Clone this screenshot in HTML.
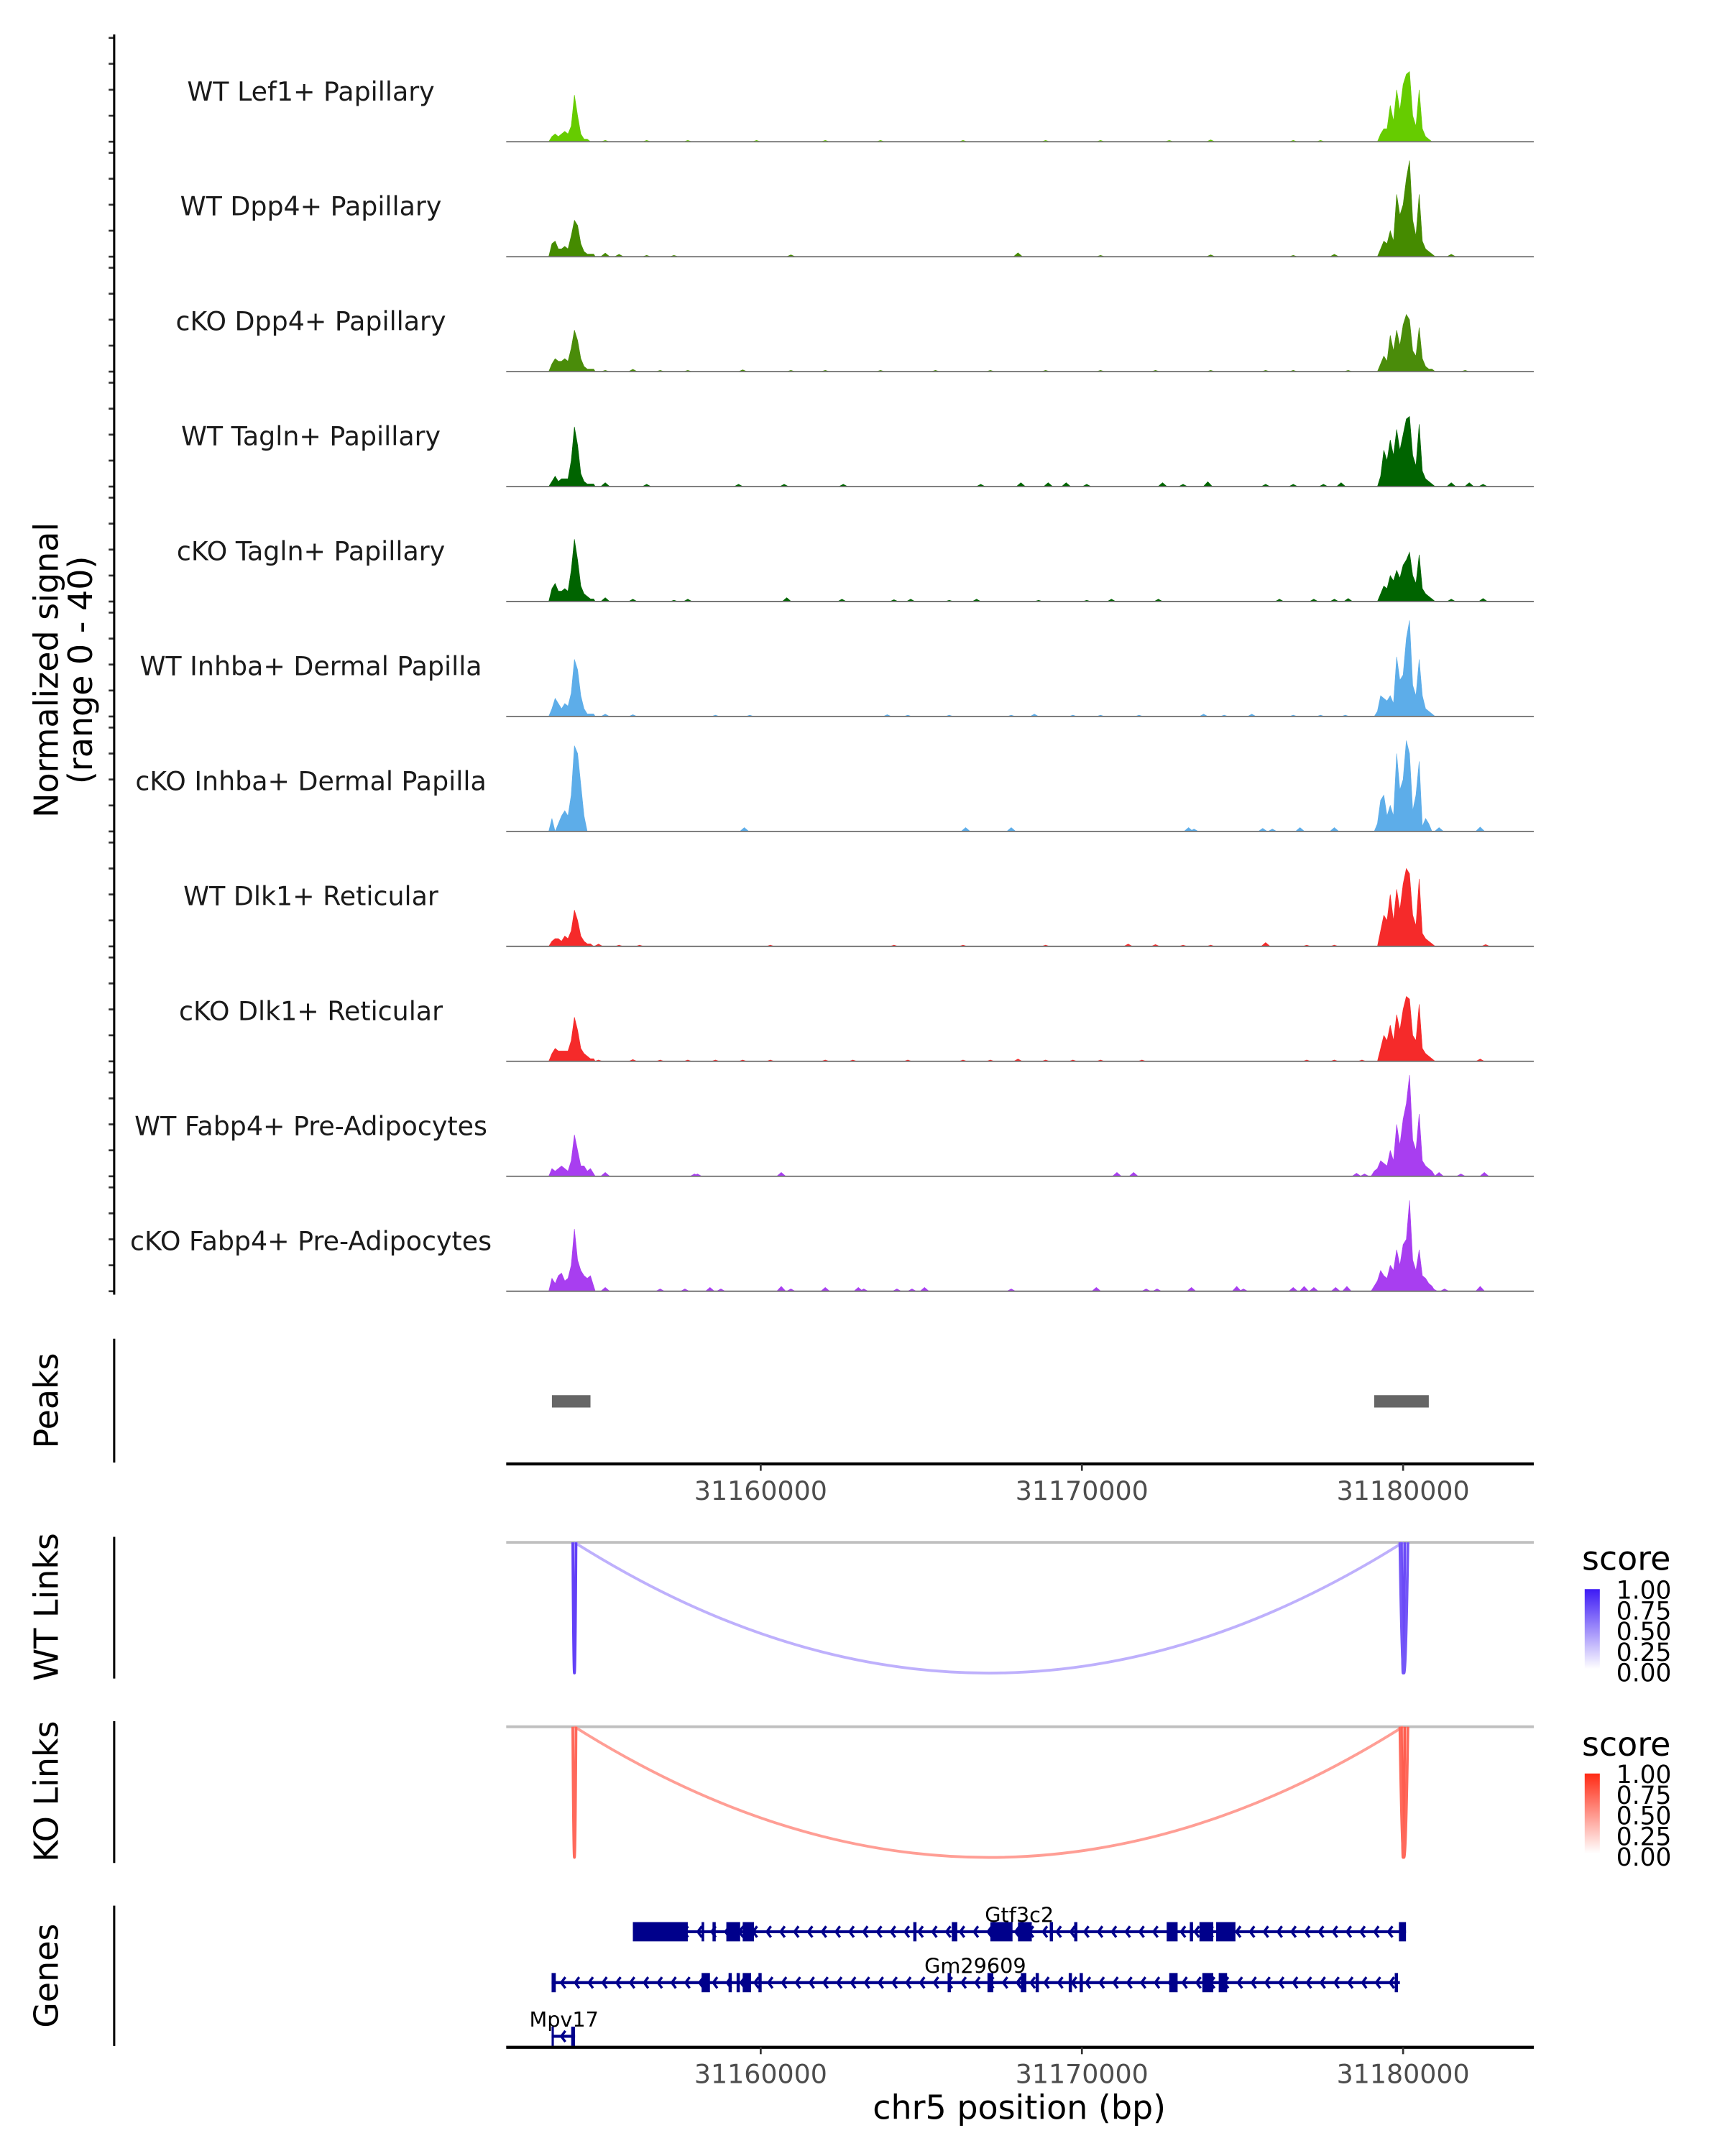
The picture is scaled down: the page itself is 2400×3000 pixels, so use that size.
<!DOCTYPE html>
<html><head><meta charset="utf-8">
<style>
html,body{margin:0;padding:0;background:#fff;}
svg{display:block;font-family:"DejaVu Sans","Liberation Sans",sans-serif;}
</style></head>
<body>
<svg id="chart" width="2400" height="3000" viewBox="0 0 1254 1567" preserveAspectRatio="none" xmlns="http://www.w3.org/2000/svg">
<rect width="1254" height="1567" fill="#fff"/>
<g id="tracks"></g>
<line x1="83" y1="25" x2="83" y2="941" stroke="#000" stroke-width="1.6"/>
<text transform="translate(42,487) rotate(-90)" text-anchor="middle" font-size="24" fill="#000">Normalized signal</text>
<text transform="translate(67,487) rotate(-90)" text-anchor="middle" font-size="24" fill="#000">(range 0 - 40)</text>

<g id="peaks">
<line x1="83" y1="973" x2="83" y2="1063" stroke="#000" stroke-width="1.6"/>
<text transform="translate(42,1018) rotate(-90)" text-anchor="middle" font-size="24">Peaks</text>
</g>
<g id="axis1"></g>

<g id="wtlinks">
<line x1="83" y1="1117" x2="83" y2="1220" stroke="#000" stroke-width="1.6"/>
<text transform="translate(42,1168) rotate(-90)" text-anchor="middle" font-size="24">WT Links</text>
</g>
<g id="kolinks">
<line x1="83" y1="1251" x2="83" y2="1354" stroke="#000" stroke-width="1.6"/>
<text transform="translate(42,1302) rotate(-90)" text-anchor="middle" font-size="24">KO Links</text>
</g>
<g id="genes">
<line x1="83" y1="1385" x2="83" y2="1487" stroke="#000" stroke-width="1.6"/>
<text transform="translate(42,1436) rotate(-90)" text-anchor="middle" font-size="24">Genes</text>
</g>
<g id="axis2"></g>
<text x="741" y="1540" text-anchor="middle" font-size="24">chr5 position (bp)</text>

<defs>
<linearGradient id="gWT" x1="0" y1="1" x2="0" y2="0"><stop offset="0" stop-color="#ffffff"/><stop offset="1" stop-color="#3d1af5"/></linearGradient>
<linearGradient id="gKO" x1="0" y1="1" x2="0" y2="0"><stop offset="0" stop-color="#ffffff"/><stop offset="1" stop-color="#ff2a14"/></linearGradient>
</defs>
<g>
<text x="1150" y="1141" font-size="24">score</text>
<rect x="1152" y="1155" width="11" height="58" fill="url(#gWT)"/>
<text x="1175" y="1162" font-size="18">1.00</text><text x="1175" y="1177" font-size="18">0.75</text><text x="1175" y="1192" font-size="18">0.50</text><text x="1175" y="1207" font-size="18">0.25</text><text x="1175" y="1222" font-size="18">0.00</text>
</g>
<g>
<text x="1150" y="1276" font-size="24">score</text>
<rect x="1152" y="1289" width="11" height="58" fill="url(#gKO)"/>
<text x="1175" y="1296" font-size="18">1.00</text><text x="1175" y="1311" font-size="18">0.75</text><text x="1175" y="1326" font-size="18">0.50</text><text x="1175" y="1341" font-size="18">0.25</text><text x="1175" y="1356" font-size="18">0.00</text>
</g>
</svg>
<script>
// ---- data ----
const trackNames = ["WT Lef1+ Papillary","WT Dpp4+ Papillary","cKO Dpp4+ Papillary","WT Tagln+ Papillary","cKO Tagln+ Papillary","WT Inhba+ Dermal Papilla","cKO Inhba+ Dermal Papilla","WT Dlk1+ Reticular","cKO Dlk1+ Reticular","WT Fabp4+ Pre-Adipocytes","cKO Fabp4+ Pre-Adipocytes"];
const trackColors = ["#66cc00","#458b00","#4a8c0a","#006400","#006400","#5dade9","#5dade9","#f52a2a","#f52a2a","#a83ef0","#a83ef0"];
const leftStart = 31153400, rightStart = 31178900, binSize = 100;
const leftVals = [
[0,2,3,2,3,4,3,6,18,10,3,1,1,0,0],
[0,5,6,3,3,4,3,8,14,12,5,2,1,1,1],
[0,3,5,4,4,5,4,9,16,12,5,2,1,1,1],
[0,2,4,2,3,3,3,10,23,16,5,2,1,1,1],
[0,5,7,4,4,5,4,12,24,16,6,3,2,1,1],
[0,3,7,5,3,5,4,9,22,18,8,3,1,1,1],
[0,5,0,3,6,8,6,14,33,30,18,6,0,0,0],
[0,2,3,3,2,4,3,6,14,10,4,2,1,1,0],
[0,3,5,4,4,4,4,8,17,12,5,3,2,1,1],
[0,3,2,3,4,3,2,6,16,10,4,4,2,3,1],
[0,5,3,6,7,4,5,10,24,12,8,6,5,6,2]];
const rightVals = [
[0,0,0,0,3,5,5,14,8,20,12,22,26,27,10,6,20,5,2,1,0,0],
[0,0,0,0,3,6,5,10,6,24,16,20,30,37,14,8,24,6,3,2,1,0],
[0,0,0,0,3,6,4,14,8,16,10,18,22,20,8,6,17,5,2,1,1,0],
[0,0,0,0,4,14,10,18,12,22,14,20,26,27,12,8,24,6,3,2,1,0],
[0,0,0,0,3,6,5,10,8,12,9,14,16,19,10,7,18,5,3,2,1,0],
[0,0,0,2,8,7,6,8,5,23,14,16,30,37,12,8,22,8,3,2,1,0],
[0,0,0,3,12,14,6,10,6,30,16,20,35,30,8,14,27,2,5,3,0,0],
[0,0,0,0,6,12,10,20,10,22,14,24,30,28,12,8,26,5,3,2,1,0],
[0,0,0,0,5,10,8,14,8,18,12,20,25,24,10,8,22,5,3,2,1,0],
[0,0,2,3,6,5,4,10,6,20,12,22,28,39,14,10,24,6,4,3,2,0],
[0,0,2,4,8,6,5,10,8,16,10,18,20,35,12,8,16,6,5,3,2,0]];
const noisePos = [
[31155160,31156450,31157730,31159870,31162010,31163730,31166300,31168870,31170580,31172720,31174010,31176580,31177430],
[31155160,31155590,31156450,31157300,31160940,31168010,31170580,31174010,31176580,31177860,31181500],
[31155160,31156020,31156870,31157730,31159440,31160940,31162010,31163730,31165440,31167150,31168870,31170580,31172290,31174010,31175720,31176580,31178290,31181930],
[31155160,31156450,31159310,31160730,31162570,31166850,31168100,31168950,31169510,31170150,31172510,31173150,31173920,31175720,31176580,31177520,31178070,31181500,31182060,31182490],
[31155160,31156020,31157300,31157730,31160810,31162530,31164150,31164670,31165870,31166720,31168650,31170150,31170920,31172380,31176150,31177220,31177860,31178290,31181500,31182490],
[31155160,31156020,31158590,31159660,31163940,31164580,31165870,31167800,31168520,31169720,31170580,31171780,31173790,31174430,31175290,31176580,31177430,31178200],
[31159490,31166380,31167800,31173320,31173490,31175630,31175930,31176790,31177860,31181120,31182400],
[31154950,31155590,31156230,31160300,31164150,31166300,31168870,31171440,31172290,31173150,31174010,31175720,31177000,31177860,31182570],
[31154950,31156020,31156870,31157730,31158590,31159440,31160300,31162010,31162870,31164580,31166300,31167150,31168010,31168870,31169720,31170580,31171870,31177000,31177860,31178720,31182400],
[31155160,31157940,31158030,31160640,31171090,31171610,31178550,31178800,31181120,31181800,31182530],
[31155160,31156870,31157640,31158420,31158760,31160640,31160940,31162010,31163040,31163210,31164240,31164710,31165100,31167800,31170450,31172000,31172340,31173410,31174820,31175030,31176580,31176920,31177220,31177900,31178250,31180940,31181290,31182400]];
const noiseVals = [
[0.6,0.6,0.6,0.6,0.6,0.6,0.6,0.6,0.6,0.6,0.8,0.6,0.6],
[1.5,1,0.6,0.6,0.8,1.6,0.6,0.8,0.6,1,1],
[0.6,1,0.6,0.6,0.8,0.6,0.6,0.6,0.6,0.6,0.6,0.6,0.6,0.6,0.6,0.6,0.6,0.6],
[1.6,1,1,1,1,1,1.6,1.6,1.6,1,1.6,1,2,1,1,1,1.6,1.6,1.6,1],
[1.6,1,0.6,1,1.6,1,0.8,1,0.6,1,0.6,0.6,1,1,1,1,1,1.3,1,1.3],
[1,0.8,0.6,0.6,0.8,0.6,0.6,0.6,1,0.6,0.6,0.6,1,0.6,1,0.6,0.6,0.6],
[1.6,1.6,1.6,1.6,1,1.3,1,1.6,1.6,1.6,1.8],
[1,0.6,0.6,0.6,0.6,0.6,0.6,1,0.8,0.6,0.6,1.6,0.6,0.6,0.8],
[0.6,0.8,0.6,0.6,0.6,0.6,0.6,0.6,0.6,0.6,0.6,0.6,1,0.6,0.6,0.6,0.6,0.6,0.6,0.6,1],
[1.6,1,1,1.6,1.6,1.6,1.3,1,1.6,1,1.6],
[1.6,1,1,1.6,1,2,1,1.6,1.6,1,1,1,1.6,1,1.6,1,1,1.6,2,1,1.6,2,1.6,1.6,2,1,1,2]];
const tickVals = [31160000,31170000,31180000];
const peakStarts = [31153500, 31179100];
const peakEnds   = [31154700, 31180800];
const wtLinkStart = [31154200, 31154150, 31179950, 31179900];
const wtLinkEnd   = [31180000, 31154250, 31180050, 31180150];
const wtLinkScore = [0.35, 0.85, 0.8, 0.75];
const koLinkStart = [31154200, 31154150, 31179950, 31179900];
const koLinkEnd   = [31180000, 31154250, 31180050, 31180150];
const koLinkScore = [0.45, 0.7, 0.75, 0.7];
const geneNames  = ["Gtf3c2","Gm29609","Mpv17"];
const geneStarts = [31156020, 31153490, 31153490];
const geneEnds   = [31180090, 31179900, 31154220];
const geneExons = [
[[31156020,31157730],[31158160,31158240],[31158500,31158600],[31158930,31159360],[31159440,31159790],[31164750,31164850],[31165950,31166120],[31167150,31167840],[31168010,31168440],[31169000,31169100],[31169760,31169860],[31172640,31172980],[31173360,31173460],[31173660,31174090],[31174180,31174780],[31179870,31180090]],
[[31153490,31153620],[31158160,31158420],[31159000,31159100],[31159250,31159350],[31159440,31159700],[31159930,31160030],[31165820,31165920],[31167060,31167240],[31168100,31168270],[31168560,31168660],[31169590,31169690],[31169930,31170030],[31172720,31172980],[31173750,31174090],[31174260,31174520],[31179740,31179840]],
[[31153490,31153560],[31154100,31154220]]];

// ---- scales ----
const NS = "http://www.w3.org/2000/svg";
const X0 = 368, X1 = 1115, D0 = 31152077, D1 = 31184069;
function xs(p){ return X0 + (p - D0) / (D1 - D0) * (X1 - X0); }
const base0 = 103, trackStep = 83.55, unitPx = 75.5/40;
function ys(v, b){ return b - v * unitPx; }
function el(tag, attrs, parent){ const e = document.createElementNS(NS, tag); for (const k in attrs) e.setAttribute(k, attrs[k]); parent.appendChild(e); return e; }

const tracks = document.getElementById('tracks');
trackNames.forEach((name, i) => {
  const b = base0 + i * trackStep;
  const g = el('g', {}, tracks);
  
  
  for (let t = 0; t <= 40; t += 10) {
    const tk = el('line', {x1:79, x2:83, y1:ys(t,b), y2:ys(t,b), stroke:'#333', 'stroke-width':1.4}, g);
    
    
  }
  const lab = el('text', {x:226, y:b-30, 'text-anchor':'middle', 'font-size':19, fill:'#1a1a1a'}, g);
  lab.textContent = name;
  
  
  const col = trackColors[i];
  function area(start, vals, nm){
    let d = 'M' + xs(start - binSize/2).toFixed(2) + ',' + b;
    vals.forEach((v, k) => { d += ' L' + xs(start + k*binSize).toFixed(2) + ',' + ys(v,b).toFixed(2); });
    d += ' L' + xs(start + (vals.length-1)*binSize + binSize/2).toFixed(2) + ',' + b + ' Z';
    const p = el('path', {d:d, fill:col, stroke:col, 'stroke-width':0.3}, g);
    
    
  }
  area(leftStart, leftVals[i], 'signal-left-peak');
  area(rightStart, rightVals[i], 'signal-right-peak');
  noisePos[i].forEach((pos, k) => {
    const v = noiseVals[i][k];
    const d = 'M' + xs(pos-150).toFixed(2) + ',' + b + ' L' + xs(pos).toFixed(2) + ',' + ys(v,b).toFixed(2) + ' L' + xs(pos+150).toFixed(2) + ',' + b + ' Z';
    const p = el('path', {d:d, fill:col}, g);
    
    
  });
  const bl = el('line', {x1:X0, x2:X1, y1:b, y2:b, stroke:'#777', 'stroke-width':1}, g);
  
  
});

const pk = document.getElementById('peaks');
peakStarts.forEach((s, i) => {
  const r = el('rect', {x:xs(s), y:1014, width:xs(peakEnds[i])-xs(s), height:9, fill:'#666'}, pk);
  
  
});

function xAxis(id, y){
  const g = document.getElementById(id);
  el('line', {x1:X0, x2:X1, y1:y, y2:y, stroke:'#000', 'stroke-width':2.2}, g);
  tickVals.forEach(t => {
    const tk = el('line', {x1:xs(t), x2:xs(t), y1:y, y2:y+5, stroke:'#333', 'stroke-width':1.4}, g);
    
    
    const tl = el('text', {x:xs(t), y:y+26, 'text-anchor':'middle', 'font-size':19, fill:'#4d4d4d'}, g);
    tl.textContent = String(t);
    
    
  });
}
xAxis('axis1', 1064);
xAxis('axis2', 1488);

function mix(c, s){
  const r = Math.round(255 + (c[0]-255)*s), gg = Math.round(255 + (c[1]-255)*s), bb = Math.round(255 + (c[2]-255)*s);
  return 'rgb(' + r + ',' + gg + ',' + bb + ')';
}
function links(id, top, bottom, starts, ends, scores, col){
  const g = document.getElementById(id);
  const ln = el('line', {x1:X0, x2:X1, y1:top, y2:top, stroke:'#bfbfbf', 'stroke-width':2}, g);
  
  
  starts.forEach((s, i) => {
    const a = xs(s), b = xs(ends[i]);
    const ctrl = top + 2*(bottom - top);
    const p = el('path', {d:'M'+a.toFixed(2)+','+top+' Q'+((a+b)/2).toFixed(2)+','+ctrl+' '+b.toFixed(2)+','+top, fill:'none', stroke:mix(col, scores[i]), 'stroke-width':2}, g);
    
    
  });
}
links('wtlinks', 1121, 1216, wtLinkStart, wtLinkEnd, wtLinkScore, [70,30,245]);
links('kolinks', 1255, 1350, koLinkStart, koLinkEnd, koLinkScore, [255,40,20]);

const gg = document.getElementById('genes');
const geneY = [1404, 1441, 1480];
const labelX = [741, 709, 410];
geneNames.forEach((n, i) => {
  const g = el('g', {}, gg);
  
  
  const y = geneY[i];
  el('line', {x1:xs(geneStarts[i]), x2:xs(geneEnds[i]), y1:y, y2:y, stroke:'#00008b', 'stroke-width':2.2}, g);
  for (let p = geneStarts[i] + 300; p < geneEnds[i] - 150; p += 430) {
    const x = xs(p);
    el('path', {d:'M'+(x+3)+','+(y-4)+' L'+x+','+y+' L'+(x+3)+','+(y+4), fill:'none', stroke:'#00008b', 'stroke-width':1.8}, g);
  }
  geneExons[i].forEach(ex => {
    const r = el('rect', {x:xs(ex[0]), y:y-7, width:Math.max(1.6, xs(ex[1])-xs(ex[0])), height:14, fill:'#00008b'}, g);
    
    
  });
  const t = el('text', {x:labelX[i], y:y-7, 'text-anchor':'middle', 'font-size':15, fill:'#000'}, g);
  t.textContent = n;
  
  
});
</script>
</body></html>
